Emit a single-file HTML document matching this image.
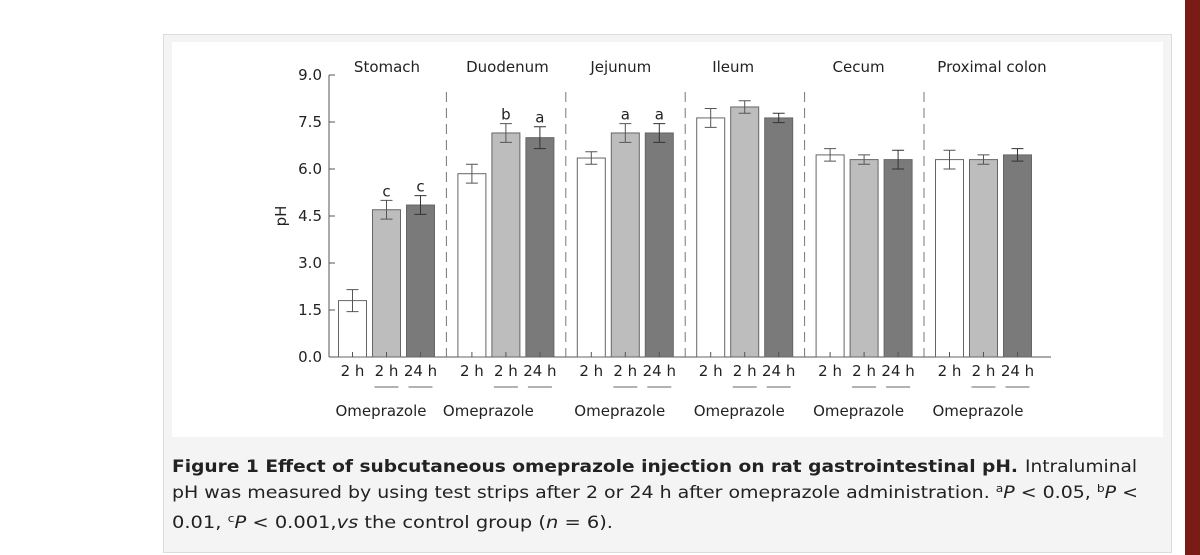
<!DOCTYPE html>
<html><head><meta charset="utf-8">
<style>
html,body{margin:0;padding:0;background:#fff;width:1200px;height:555px;overflow:hidden}
svg{display:block}
text{font-family:"DejaVu Sans","Liberation Sans",sans-serif;fill:#222}
</style></head>
<body>
<svg id="fig" width="1200" height="555">
  <rect x="163.5" y="34.5" width="1008" height="518" fill="#f4f4f4" stroke="#dcdcdc"/>
  <rect x="172" y="42" width="991" height="395" fill="#fff"/>
  <rect x="1185" y="0" width="15" height="555" fill="#7b1b15"/>
  <g id="chart"></g>
  <g>
    <text x="172" y="472" font-size="17" font-weight="bold" textLength="846" lengthAdjust="spacingAndGlyphs">Figure 1 Effect of subcutaneous omeprazole injection on rat gastrointestinal pH.</text>
    <text x="1025" y="472" font-size="17" textLength="112" lengthAdjust="spacingAndGlyphs">Intraluminal</text>
    <text x="172" y="498" font-size="17" textLength="966" lengthAdjust="spacingAndGlyphs">pH was measured by using test strips after 2 or 24 h after omeprazole administration. <tspan font-size="11" dy="-6">a</tspan><tspan font-style="italic" dy="6">P</tspan> &lt; 0.05, <tspan font-size="11" dy="-6">b</tspan><tspan font-style="italic" dy="6">P</tspan> &lt;</text>
    <text x="172" y="528" font-size="17" textLength="441" lengthAdjust="spacingAndGlyphs">0.01, <tspan font-size="11" dy="-6">c</tspan><tspan font-style="italic" dy="6">P</tspan> &lt; 0.001,<tspan font-style="italic">vs</tspan> the control group (<tspan font-style="italic">n</tspan> = 6).</text>
  </g>
</svg>
<script>
const regions = ["Stomach","Duodenum","Jejunum","Ileum","Cecum","Proximal colon"];
const control2h = [1.8, 5.85, 6.35, 7.63, 6.45, 6.3];
const ome2h = [4.7, 7.15, 7.15, 7.98, 6.3, 6.3];
const ome24h = [4.85, 7.0, 7.15, 7.63, 6.3, 6.45];
const errControl = [0.35, 0.3, 0.2, 0.3, 0.2, 0.3];
const errOme2h = [0.3, 0.3, 0.3, 0.2, 0.15, 0.15];
const errOme24h = [0.3, 0.35, 0.3, 0.15, 0.3, 0.2];
const sigOme2h = ["c","b","a","","",""];
const sigOme24h = ["c","a","a","","",""];
const yTicks = [0, 1.5, 3, 4.5, 6, 7.5, 9];
const barLabels = ["2 h","2 h","24 h"];

const NS="http://www.w3.org/2000/svg";
const g=document.getElementById('chart');
const y0=357, yTop=75, yMax=9;
const yS=v=>y0-(v/yMax)*(y0-yTop);
const gx0=338, gStep=119.4, bStep=34, bw=28;
const xBar=(gi,bi)=>gx0+gi*gStep+bi*bStep;
function mk(tag,attrs,txt){const e=document.createElementNS(NS,tag);for(const k in attrs)e.setAttribute(k,attrs[k]);if(txt!==undefined)e.textContent=txt;g.appendChild(e);return e;}

// y axis
let ax=mk('line',{x1:329,y1:75,x2:329,y2:y0,stroke:'#555','stroke-width':1});


yTicks.forEach(v=>{
  const t=mk('line',{x1:329,y1:yS(v),x2:335,y2:yS(v),stroke:'#555'});
  
  
  const l=mk('text',{x:322,y:yS(v)+5,'font-size':15,'text-anchor':'end'},v.toFixed(1));
  
  
});
const yt=mk('text',{x:0,y:0,'font-size':15,'text-anchor':'middle',transform:'translate(286,216) rotate(-90)'},'pH');


// x axis
const xa=mk('line',{x1:329,y1:y0,x2:1051,y2:y0,stroke:'#555'});



const series=[control2h,ome2h,ome24h];
const errs=[errControl,errOme2h,errOme24h];
const fills=['#ffffff','#bdbdbd','#7a7a7a'];
const sigs=[null,sigOme2h,sigOme24h];
const titleOff=[44,45,39,32,38,52];
regions.forEach((r,gi)=>{
  const gc=xBar(gi,1)+bw/2;
  const tt=mk('text',{x:gc-3+titleOff[gi]-40,y:72,'font-size':15,'text-anchor':'middle'},r);
  
  
  if(gi>0){
    const dx=xBar(gi,0)-11;
    const d=mk('line',{x1:dx,y1:92,x2:dx,y2:y0,stroke:'#777','stroke-dasharray':'10,6'});
    
    
  }
  series.forEach((s,bi)=>{
    const x=xBar(gi,bi), v=s[gi];
    const b=mk('rect',{x:x+0.5,y:yS(v),width:bw,height:y0-yS(v),fill:fills[bi],stroke:'#666'});
    
    
    const cx=x+bw/2+0.5, e=errs[bi][gi];
    const ec=bi==2?'#333':'#555';
    const ep=mk('path',{d:`M${cx},${yS(v+e)}V${yS(v-e)}M${cx-6},${yS(v+e)}H${cx+6}M${cx-6},${yS(v-e)}H${cx+6}`,stroke:ec,fill:'none'});
    
    
    const tk=mk('line',{x1:cx,y1:y0,x2:cx,y2:y0-5,stroke:'#555'});
    
    
    const lb=mk('text',{x:cx,y:376,'font-size':15,'text-anchor':'middle'},barLabels[bi]);
    
    
    if(bi>0){
      const ul=mk('line',{x1:cx-12,y1:387,x2:cx+12,y2:387,stroke:'#666'});
      
      
      const sg=sigs[bi][gi];
      if(sg){
        const st=mk('text',{x:cx,y:yS(v+e)-4,'font-size':15,'text-anchor':'middle'},sg);
        
        
      }
    }
  });
  const om=mk('text',{x:gc-5+(gi==1?-12:0),y:416,'font-size':15,'text-anchor':'middle'},'Omeprazole');
  
  
});
</script>
</body></html>
